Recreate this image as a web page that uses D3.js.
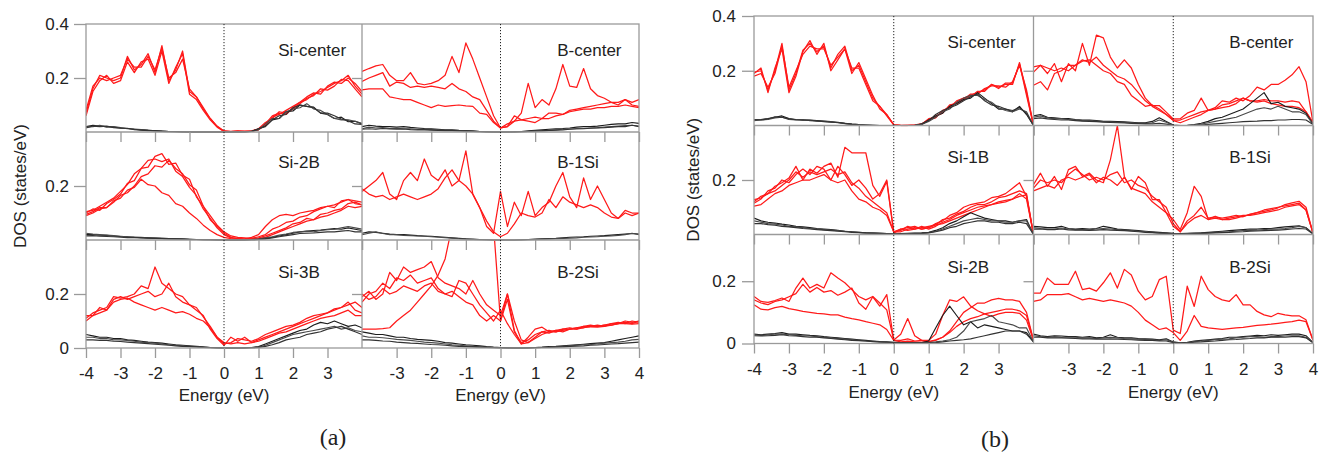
<!DOCTYPE html>
<html>
<head>
<meta charset="utf-8">
<script src="https://cdn.jsdelivr.net/npm/d3@7"></script>
<style>
  body { margin: 0; background: #fff; }
  svg { display: block; }
  text { font-family: "Liberation Sans", Arial, Helvetica, sans-serif; fill: #222; }
</style>
</head>
<body>
<svg id="chart" width="1327" height="453"></svg>
<script>
// Energy grid (eV) shared by every DOS curve
const energies = [-4.0,-3.8,-3.6,-3.4,-3.2,-3.0,-2.8,-2.6,-2.4,-2.2,-2.0,-1.8,-1.6,-1.4,-1.2,-1.0,-0.8,-0.6,-0.4,-0.2,0.0,
  0.2,0.4,0.6,0.8,1.0,1.2,1.4,1.6,1.8,2.0,2.2,2.4,2.6,2.8,3.0,3.2,3.4,3.6,3.8,4.0];

// Tick values and labels
const xTicksLeft = [-4,-3,-2,-1,0,1,2,3];
const xTicksRight = [-3,-2,-1,0,1,2,3,4];
const xTicksInner = [-4,-3,-2,-1,1,2,3,4];
const yTicksByRow = [[0.2,0.4],[0.2],[0,0.2]];
const yMaxA = [0.4,0.4,0.4];
const yMaxB = [0.4,0.4,0.35];
const panelLabelsA = ["Si-center","B-center","Si-2B","B-1Si","Si-3B","B-2Si"];
const panelLabelsB = ["Si-center","B-center","Si-1B","B-1Si","Si-2B","B-2Si"];

// ---------- (a) Si-center ----------
const aSiCenterRed1 = [0.07,0.16,0.21,0.20,0.19,0.20,0.28,0.23,0.25,0.29,0.22,0.32,0.19,0.23,0.30,0.15,0.13,0.085,0.05,0.02,0.003,0.001,0.004,0.001,0.003,0.01,0.03,0.06,0.07,0.065,0.09,0.11,0.12,0.14,0.15,0.165,0.18,0.19,0.21,0.17,0.14];
const aSiCenterRed2 = [0.06,0.15,0.19,0.21,0.18,0.19,0.26,0.22,0.26,0.27,0.21,0.30,0.18,0.24,0.29,0.14,0.12,0.08,0.045,0.018,0.002,0.002,0.003,0.002,0.004,0.012,0.035,0.05,0.075,0.07,0.085,0.105,0.125,0.135,0.16,0.155,0.17,0.195,0.19,0.16,0.13];
const aSiCenterRed3 = [0.08,0.17,0.20,0.19,0.20,0.21,0.27,0.24,0.24,0.28,0.23,0.31,0.20,0.22,0.27,0.16,0.13,0.09,0.05,0.022,0.004,0.001,0.002,0.003,0.002,0.008,0.025,0.055,0.065,0.08,0.095,0.11,0.13,0.145,0.14,0.17,0.185,0.18,0.20,0.18,0.15];
const aSiCenterBlack1 = [0.02,0.025,0.022,0.02,0.018,0.015,0.013,0.01,0.008,0.006,0.005,0.003,0.002,0.001,0.001,0,0,0,0,0,0,0,0,0,0.002,0.012,0.022,0.045,0.05,0.075,0.078,0.1,0.095,0.092,0.07,0.065,0.05,0.055,0.038,0.04,0.03];
const aSiCenterBlack2 = [0.018,0.02,0.025,0.018,0.02,0.016,0.012,0.011,0.009,0.007,0.004,0.004,0.002,0.002,0,0,0,0,0,0,0,0,0,0,0.003,0.008,0.03,0.05,0.05,0.075,0.085,0.09,0.105,0.085,0.08,0.065,0.05,0.045,0.045,0.04,0.032];
const aSiCenterBlack3 = [0.015,0.022,0.02,0.022,0.016,0.014,0.014,0.009,0.007,0.005,0.005,0.002,0.001,0.001,0,0,0,0,0,0,0,0,0,0.001,0.002,0.012,0.02,0.045,0.06,0.065,0.09,0.1,0.095,0.09,0.07,0.07,0.06,0.048,0.042,0.03,0.028];

// ---------- (a) B-center ----------
const aBCenterRed1 = [0.224,0.235,0.245,0.25,0.21,0.19,0.19,0.22,0.18,0.175,0.18,0.19,0.21,0.28,0.22,0.33,0.27,0.2,0.13,0.06,0.015,0.02,0.04,0.07,0.18,0.09,0.12,0.10,0.16,0.25,0.17,0.165,0.235,0.16,0.135,0.125,0.11,0.10,0.12,0.11,0.12];
const aBCenterRed2 = [0.187,0.2,0.21,0.22,0.17,0.185,0.18,0.165,0.17,0.165,0.17,0.165,0.16,0.18,0.16,0.15,0.13,0.12,0.08,0.04,0.015,0.03,0.04,0.045,0.05,0.055,0.05,0.07,0.07,0.065,0.08,0.085,0.09,0.095,0.1,0.105,0.11,0.11,0.12,0.1,0.095];
const aBCenterRed3 = [0.156,0.16,0.16,0.16,0.13,0.125,0.12,0.12,0.11,0.1,0.09,0.1,0.095,0.098,0.1,0.097,0.095,0.07,0.065,0.035,0.015,0.02,0.06,0.045,0.04,0.035,0.05,0.05,0.06,0.065,0.075,0.08,0.085,0.085,0.09,0.09,0.095,0.095,0.1,0.095,0.09];
const aBCenterBlack1 = [0.02,0.025,0.022,0.02,0.02,0.018,0.02,0.017,0.015,0.013,0.012,0.01,0.008,0.008,0.006,0.005,0.004,0.002,0.001,0,0,0,0.001,0.002,0.004,0.006,0.008,0.01,0.012,0.013,0.015,0.018,0.02,0.02,0.022,0.025,0.028,0.03,0.03,0.035,0.032];
const aBCenterBlack2 = [0.012,0.018,0.015,0.016,0.013,0.014,0.012,0.012,0.01,0.01,0.009,0.008,0.007,0.006,0.005,0.004,0.003,0.002,0.001,0,0,0,0,0.001,0.002,0.004,0.005,0.006,0.008,0.01,0.011,0.012,0.013,0.015,0.016,0.018,0.02,0.022,0.024,0.025,0.022];
const aBCenterBlack3 = [0.01,0.012,0.01,0.013,0.011,0.01,0.011,0.009,0.008,0.008,0.007,0.006,0.005,0.005,0.004,0.003,0.002,0.001,0,0,0,0,0,0.001,0.002,0.003,0.004,0.006,0.007,0.008,0.01,0.012,0.012,0.014,0.015,0.016,0.018,0.02,0.02,0.025,0.02];

// ---------- (a) Si-2B ----------
const aSi2BRed1 = [0.1,0.115,0.11,0.135,0.15,0.17,0.21,0.22,0.265,0.27,0.31,0.32,0.28,0.285,0.24,0.225,0.16,0.125,0.075,0.05,0.025,0.01,0.004,0.002,0.003,0.005,0.01,0.02,0.03,0.04,0.05,0.06,0.07,0.075,0.085,0.09,0.1,0.11,0.125,0.12,0.125];
const aSi2BRed2 = [0.095,0.105,0.12,0.12,0.14,0.165,0.175,0.2,0.235,0.245,0.275,0.27,0.295,0.265,0.245,0.205,0.185,0.125,0.09,0.055,0.03,0.015,0.01,0.008,0.005,0.008,0.015,0.025,0.035,0.045,0.06,0.065,0.08,0.075,0.095,0.1,0.11,0.115,0.135,0.14,0.13];
const aSi2BRed3 = [0.105,0.11,0.125,0.14,0.155,0.18,0.205,0.245,0.265,0.295,0.3,0.29,0.3,0.255,0.235,0.195,0.165,0.115,0.08,0.045,0.02,0.008,0.006,0.003,0.006,0.012,0.02,0.04,0.05,0.065,0.07,0.085,0.09,0.105,0.115,0.125,0.12,0.145,0.15,0.135,0.13];
const aSi2BRed4 = [0.09,0.1,0.115,0.12,0.145,0.155,0.185,0.195,0.225,0.205,0.2,0.175,0.165,0.135,0.125,0.1,0.08,0.055,0.035,0.02,0.01,0.005,0.003,0.004,0.01,0.02,0.05,0.075,0.09,0.095,0.09,0.1,0.105,0.11,0.12,0.125,0.13,0.14,0.15,0.145,0.14];
const aSi2BBlack1 = [0.02,0.02,0.018,0.017,0.015,0.013,0.012,0.01,0.009,0.008,0.007,0.006,0.005,0.004,0.003,0.002,0.002,0.001,0.001,0.001,0,0,0,0,0.001,0.002,0.005,0.01,0.015,0.02,0.025,0.03,0.033,0.035,0.037,0.04,0.042,0.04,0.045,0.04,0.035];
const aSi2BBlack2 = [0.025,0.022,0.02,0.018,0.016,0.014,0.012,0.011,0.01,0.008,0.007,0.006,0.005,0.004,0.004,0.003,0.002,0.002,0.001,0,0,0,0,0.001,0.002,0.004,0.008,0.012,0.018,0.022,0.028,0.03,0.032,0.03,0.035,0.038,0.04,0.045,0.05,0.045,0.04];
const aSi2BBlack3 = [0.015,0.016,0.014,0.013,0.012,0.01,0.009,0.009,0.008,0.007,0.006,0.005,0.004,0.004,0.003,0.002,0.002,0.001,0.001,0,0,0,0,0,0.001,0.002,0.004,0.008,0.012,0.016,0.02,0.024,0.025,0.026,0.028,0.03,0.03,0.033,0.035,0.03,0.03];

// ---------- (a) B-1Si ----------
const aB1SiRed1 = [0.18,0.2,0.22,0.25,0.17,0.15,0.22,0.25,0.22,0.3,0.24,0.22,0.26,0.2,0.22,0.33,0.17,0.12,0.05,0.025,0.18,0.05,0.14,0.09,0.18,0.09,0.12,0.14,0.2,0.25,0.16,0.12,0.23,0.15,0.2,0.15,0.1,0.08,0.11,0.1,0.1];
const aB1SiRed2 = [0.19,0.17,0.16,0.165,0.15,0.16,0.17,0.16,0.15,0.16,0.17,0.19,0.23,0.26,0.22,0.2,0.17,0.12,0.07,0.03,0.012,0.025,0.06,0.1,0.09,0.085,0.1,0.15,0.12,0.16,0.14,0.13,0.12,0.13,0.12,0.1,0.085,0.08,0.1,0.09,0.1];
const aB1SiBlack1 = [0.025,0.03,0.028,0.025,0.022,0.02,0.02,0.018,0.016,0.015,0.014,0.012,0.01,0.008,0.006,0.004,0.003,0.002,0.001,0,0,0,0,0.001,0.002,0.003,0.004,0.005,0.006,0.008,0.01,0.011,0.012,0.014,0.015,0.016,0.018,0.02,0.022,0.024,0.022];
const aB1SiBlack2 = [0.02,0.025,0.03,0.024,0.02,0.02,0.017,0.016,0.015,0.014,0.012,0.01,0.009,0.007,0.005,0.004,0.002,0.001,0.001,0,0,0,0,0,0.001,0.002,0.003,0.004,0.005,0.006,0.007,0.008,0.01,0.011,0.012,0.014,0.015,0.017,0.02,0.025,0.02];

// ---------- (a) Si-3B ----------
const aSi3BRed1 = [0.11,0.13,0.14,0.15,0.19,0.185,0.19,0.2,0.23,0.22,0.3,0.24,0.22,0.2,0.19,0.16,0.14,0.12,0.07,0.035,0.01,0.04,0.025,0.04,0.02,0.03,0.04,0.05,0.06,0.07,0.08,0.09,0.1,0.11,0.12,0.13,0.14,0.15,0.16,0.17,0.15];
const aSi3BRed2 = [0.12,0.12,0.15,0.14,0.18,0.19,0.18,0.19,0.2,0.21,0.19,0.2,0.24,0.19,0.17,0.16,0.15,0.115,0.08,0.04,0.015,0.02,0.035,0.03,0.025,0.035,0.05,0.06,0.07,0.08,0.085,0.095,0.11,0.12,0.125,0.13,0.145,0.15,0.17,0.14,0.13];
const aSi3BRed3 = [0.1,0.12,0.13,0.14,0.17,0.18,0.185,0.17,0.16,0.15,0.14,0.15,0.14,0.13,0.135,0.125,0.11,0.1,0.075,0.04,0.02,0.015,0.02,0.015,0.02,0.025,0.035,0.045,0.055,0.06,0.07,0.08,0.09,0.1,0.11,0.115,0.12,0.13,0.14,0.12,0.12];
const aSi3BBlack1 = [0.05,0.045,0.04,0.04,0.035,0.035,0.03,0.028,0.025,0.022,0.02,0.018,0.015,0.012,0.01,0.008,0.006,0.004,0.002,0.001,0,0,0,0.001,0.002,0.005,0.015,0.025,0.035,0.045,0.055,0.065,0.07,0.085,0.095,0.09,0.1,0.09,0.08,0.085,0.075];
const aSi3BBlack2 = [0.04,0.04,0.035,0.035,0.03,0.03,0.028,0.025,0.022,0.02,0.018,0.015,0.012,0.01,0.008,0.006,0.005,0.003,0.002,0.001,0,0,0,0,0.001,0.003,0.01,0.02,0.03,0.04,0.05,0.055,0.06,0.065,0.07,0.075,0.08,0.07,0.075,0.065,0.06];
const aSi3BBlack3 = [0.03,0.03,0.028,0.028,0.025,0.024,0.022,0.02,0.018,0.016,0.014,0.012,0.01,0.008,0.006,0.005,0.004,0.002,0.001,0,0,0,0,0,0.001,0.002,0.006,0.012,0.02,0.03,0.035,0.04,0.05,0.055,0.06,0.07,0.075,0.08,0.07,0.06,0.05];

// ---------- (a) B-2Si ----------
const aB2SiRed1 = [0.07,0.07,0.07,0.072,0.075,0.1,0.12,0.14,0.17,0.2,0.23,0.27,0.33,0.45,0.6,0.7,0.75,0.7,0.6,0.45,0.1,0.2,0.065,0.015,0.04,0.07,0.077,0.06,0.065,0.06,0.07,0.075,0.08,0.078,0.077,0.08,0.085,0.09,0.09,0.088,0.09];
const aB2SiRed2 = [0.19,0.21,0.18,0.2,0.28,0.25,0.3,0.28,0.29,0.3,0.32,0.26,0.24,0.23,0.22,0.2,0.25,0.2,0.16,0.14,0.12,0.2,0.1,0.03,0.02,0.04,0.06,0.065,0.06,0.065,0.07,0.07,0.075,0.08,0.085,0.08,0.09,0.09,0.1,0.095,0.1];
const aB2SiRed3 = [0.17,0.2,0.21,0.24,0.22,0.26,0.25,0.27,0.24,0.25,0.26,0.22,0.2,0.21,0.19,0.17,0.16,0.12,0.1,0.12,0.1,0.18,0.06,0.02,0.03,0.05,0.06,0.055,0.065,0.07,0.075,0.07,0.08,0.085,0.08,0.085,0.09,0.095,0.09,0.1,0.095];
const aB2SiRed4 = [0.2,0.18,0.19,0.22,0.2,0.21,0.23,0.22,0.21,0.23,0.24,0.21,0.2,0.19,0.25,0.24,0.2,0.16,0.13,0.1,0.14,0.09,0.05,0.015,0.02,0.035,0.05,0.06,0.06,0.07,0.07,0.075,0.075,0.08,0.08,0.085,0.085,0.09,0.095,0.09,0.1];
const aB2SiBlack1 = [0.06,0.055,0.05,0.05,0.045,0.04,0.04,0.035,0.032,0.03,0.028,0.025,0.02,0.018,0.015,0.012,0.01,0.008,0.005,0.003,0.002,0.001,0,0,0.001,0.002,0.003,0.005,0.006,0.008,0.01,0.012,0.014,0.016,0.018,0.02,0.025,0.03,0.035,0.04,0.045];
const aB2SiBlack2 = [0.045,0.04,0.04,0.038,0.035,0.032,0.03,0.028,0.025,0.022,0.02,0.018,0.015,0.012,0.01,0.008,0.006,0.004,0.003,0.002,0.001,0,0,0,0,0.001,0.002,0.003,0.005,0.006,0.008,0.01,0.012,0.013,0.015,0.018,0.02,0.022,0.025,0.03,0.032];
const aB2SiBlack3 = [0.03,0.03,0.028,0.026,0.025,0.022,0.02,0.018,0.017,0.015,0.013,0.012,0.01,0.008,0.006,0.005,0.004,0.003,0.002,0.001,0,0,0,0,0,0.001,0.002,0.002,0.003,0.004,0.006,0.007,0.008,0.01,0.011,0.013,0.015,0.016,0.018,0.02,0.022];

// ---------- (b) Si-center ----------
const bSiCenterRed1 = [0.195,0.2,0.13,0.2,0.3,0.13,0.19,0.275,0.3,0.27,0.29,0.21,0.26,0.29,0.2,0.22,0.16,0.1,0.07,0.04,0.002,0,0,0.001,0.005,0.025,0.03,0.05,0.07,0.085,0.1,0.11,0.12,0.13,0.15,0.14,0.15,0.15,0.23,0.12,0.0];
const bSiCenterRed2 = [0.18,0.19,0.14,0.19,0.29,0.14,0.2,0.26,0.29,0.28,0.28,0.22,0.25,0.28,0.21,0.21,0.15,0.09,0.07,0.035,0.002,0,0.001,0.002,0.006,0.02,0.035,0.045,0.075,0.08,0.095,0.115,0.115,0.135,0.145,0.145,0.14,0.16,0.22,0.13,0.0];
const bSiCenterRed3 = [0.19,0.21,0.12,0.21,0.28,0.12,0.18,0.27,0.31,0.26,0.3,0.2,0.24,0.28,0.19,0.23,0.17,0.11,0.06,0.04,0.003,0.001,0,0.001,0.004,0.022,0.028,0.055,0.065,0.09,0.1,0.105,0.125,0.125,0.15,0.135,0.155,0.155,0.225,0.11,0.0];
const bSiCenterBlack1 = [0.02,0.022,0.025,0.03,0.035,0.025,0.022,0.02,0.02,0.018,0.016,0.014,0.012,0.008,0.005,0.003,0.002,0.001,0,0,0,0,0,0,0.005,0.02,0.035,0.045,0.07,0.08,0.095,0.1,0.12,0.1,0.08,0.06,0.06,0.05,0.07,0.04,0];
const bSiCenterBlack2 = [0.018,0.02,0.022,0.028,0.03,0.022,0.02,0.022,0.018,0.016,0.015,0.013,0.01,0.007,0.004,0.002,0.001,0,0,0,0,0,0,0,0.004,0.015,0.03,0.05,0.06,0.085,0.1,0.11,0.11,0.095,0.085,0.065,0.055,0.05,0.06,0.05,0];
const bSiCenterBlack3 = [0.022,0.02,0.024,0.032,0.03,0.024,0.021,0.019,0.019,0.017,0.014,0.012,0.011,0.008,0.005,0.003,0.002,0.001,0,0,0,0,0,0.001,0.006,0.018,0.04,0.055,0.065,0.075,0.09,0.105,0.115,0.09,0.075,0.07,0.06,0.055,0.065,0.045,0];

// ---------- (b) B-center ----------
const bBCenterRed1 = [0.214,0.22,0.19,0.226,0.16,0.226,0.2,0.3,0.22,0.33,0.32,0.25,0.21,0.24,0.21,0.15,0.1,0.073,0.073,0.049,0.024,0.025,0.045,0.055,0.1,0.055,0.065,0.09,0.085,0.1,0.09,0.11,0.14,0.13,0.15,0.15,0.165,0.185,0.215,0.16,0.01];
const bBCenterRed2 = [0.195,0.22,0.21,0.2,0.21,0.2,0.22,0.24,0.23,0.25,0.22,0.2,0.18,0.17,0.15,0.12,0.09,0.07,0.055,0.04,0.02,0.02,0.03,0.04,0.05,0.055,0.06,0.075,0.08,0.09,0.1,0.09,0.09,0.095,0.09,0.09,0.085,0.09,0.085,0.05,0.01];
const bBCenterRed3 = [0.147,0.16,0.13,0.19,0.2,0.22,0.22,0.235,0.24,0.22,0.2,0.19,0.16,0.15,0.11,0.09,0.07,0.075,0.06,0.04,0.018,0.01,0.02,0.03,0.04,0.055,0.06,0.065,0.07,0.08,0.1,0.09,0.085,0.09,0.08,0.075,0.07,0.07,0.065,0.05,0.01];
const bBCenterBlack1 = [0.035,0.04,0.03,0.028,0.025,0.025,0.022,0.02,0.02,0.018,0.015,0.015,0.014,0.013,0.012,0.01,0.01,0.015,0.028,0.015,0.002,0,0.001,0.003,0.008,0.015,0.025,0.03,0.04,0.05,0.06,0.08,0.1,0.12,0.08,0.085,0.07,0.065,0.06,0.045,0.005];
const bBCenterBlack2 = [0.03,0.035,0.028,0.025,0.025,0.022,0.02,0.018,0.018,0.016,0.014,0.013,0.012,0.011,0.01,0.009,0.008,0.01,0.02,0.012,0.001,0,0,0.002,0.005,0.01,0.015,0.02,0.025,0.03,0.04,0.05,0.06,0.065,0.06,0.07,0.06,0.05,0.05,0.04,0.005];
const bBCenterBlack3 = [0.025,0.028,0.024,0.022,0.02,0.02,0.018,0.016,0.015,0.014,0.012,0.011,0.01,0.009,0.008,0.007,0.006,0.006,0.008,0.005,0.001,0,0,0.001,0.002,0.004,0.006,0.008,0.01,0.012,0.014,0.015,0.016,0.018,0.018,0.02,0.02,0.022,0.022,0.02,0.004];

// ---------- (b) Si-1B ----------
const bSi1BRed1 = [0.128,0.134,0.15,0.177,0.19,0.207,0.25,0.2,0.24,0.225,0.25,0.262,0.21,0.32,0.3,0.3,0.3,0.18,0.14,0.195,0.005,0.02,0.025,0.03,0.02,0.025,0.04,0.05,0.07,0.08,0.1,0.11,0.115,0.12,0.135,0.14,0.15,0.17,0.19,0.14,0.0];
const bSi1BRed2 = [0.115,0.13,0.16,0.17,0.2,0.19,0.22,0.24,0.22,0.25,0.24,0.2,0.25,0.22,0.18,0.2,0.17,0.13,0.15,0.2,0.01,0.015,0.03,0.02,0.025,0.03,0.035,0.055,0.06,0.075,0.085,0.1,0.11,0.11,0.12,0.135,0.14,0.15,0.16,0.15,0.0];
const bSi1BRed3 = [0.104,0.11,0.13,0.15,0.16,0.18,0.19,0.2,0.2,0.21,0.22,0.2,0.19,0.2,0.16,0.13,0.12,0.1,0.09,0.07,0.01,0.01,0.02,0.025,0.02,0.025,0.035,0.04,0.05,0.06,0.07,0.08,0.09,0.1,0.11,0.115,0.12,0.13,0.14,0.145,0.0];
const bSi1BRed4 = [0.12,0.14,0.15,0.16,0.18,0.2,0.23,0.21,0.23,0.22,0.23,0.24,0.22,0.23,0.19,0.17,0.14,0.12,0.1,0.08,0.01,0.02,0.015,0.02,0.03,0.02,0.03,0.045,0.055,0.07,0.08,0.09,0.1,0.105,0.11,0.12,0.125,0.13,0.15,0.13,0.0];
const bSi1BBlack1 = [0.06,0.05,0.045,0.042,0.038,0.035,0.03,0.028,0.025,0.022,0.02,0.018,0.015,0.012,0.01,0.008,0.006,0.005,0.004,0.003,0.002,0.003,0.004,0.005,0.006,0.008,0.015,0.025,0.04,0.05,0.065,0.08,0.07,0.06,0.055,0.05,0.05,0.045,0.05,0.055,0];
const bSi1BBlack2 = [0.05,0.045,0.04,0.038,0.035,0.03,0.028,0.025,0.022,0.02,0.018,0.016,0.014,0.012,0.01,0.008,0.006,0.005,0.004,0.003,0.002,0.002,0.003,0.004,0.005,0.007,0.012,0.02,0.03,0.04,0.05,0.055,0.06,0.055,0.05,0.05,0.045,0.045,0.05,0.05,0];
const bSi1BBlack3 = [0.04,0.04,0.036,0.034,0.03,0.028,0.025,0.022,0.02,0.018,0.016,0.014,0.012,0.01,0.008,0.007,0.006,0.005,0.004,0.003,0.002,0.002,0.002,0.003,0.004,0.006,0.01,0.016,0.025,0.03,0.04,0.045,0.05,0.05,0.045,0.045,0.04,0.04,0.045,0.04,0];

// ---------- (b) B-1Si ----------
const bB1SiRed1 = [0.183,0.225,0.177,0.213,0.165,0.238,0.25,0.213,0.225,0.2,0.19,0.274,0.4,0.213,0.165,0.213,0.19,0.128,0.128,0.08,0.055,0.018,0.08,0.177,0.14,0.055,0.067,0.055,0.055,0.06,0.067,0.073,0.08,0.085,0.09,0.098,0.11,0.116,0.122,0.1,0.005];
const bB1SiRed2 = [0.17,0.2,0.19,0.2,0.19,0.22,0.24,0.22,0.2,0.21,0.2,0.22,0.23,0.19,0.2,0.18,0.17,0.14,0.12,0.1,0.04,0.01,0.05,0.07,0.1,0.06,0.065,0.06,0.065,0.07,0.065,0.075,0.08,0.09,0.095,0.1,0.105,0.11,0.115,0.09,0.005];
const bB1SiRed3 = [0.16,0.17,0.18,0.17,0.2,0.21,0.2,0.21,0.22,0.19,0.21,0.2,0.18,0.21,0.17,0.16,0.15,0.12,0.1,0.08,0.03,0.01,0.04,0.06,0.07,0.055,0.06,0.055,0.06,0.065,0.07,0.07,0.075,0.08,0.085,0.09,0.1,0.105,0.11,0.09,0.005];
const bB1SiBlack1 = [0.03,0.028,0.025,0.025,0.03,0.022,0.02,0.022,0.02,0.022,0.03,0.025,0.02,0.018,0.016,0.014,0.012,0.01,0.008,0.006,0.004,0.003,0.004,0.005,0.006,0.008,0.01,0.012,0.014,0.016,0.018,0.02,0.02,0.022,0.022,0.025,0.028,0.03,0.032,0.025,0.003];
const bB1SiBlack2 = [0.025,0.022,0.02,0.02,0.024,0.02,0.018,0.018,0.017,0.02,0.022,0.02,0.018,0.016,0.014,0.012,0.01,0.008,0.006,0.005,0.003,0.002,0.003,0.004,0.005,0.006,0.008,0.009,0.01,0.012,0.014,0.015,0.016,0.018,0.02,0.02,0.022,0.025,0.03,0.025,0.003];
const bB1SiBlack3 = [0.02,0.02,0.018,0.018,0.02,0.017,0.016,0.016,0.015,0.016,0.018,0.016,0.015,0.014,0.012,0.01,0.008,0.007,0.005,0.004,0.002,0.002,0.002,0.003,0.004,0.005,0.006,0.007,0.008,0.009,0.01,0.012,0.013,0.014,0.015,0.016,0.018,0.02,0.022,0.02,0.002];

// ---------- (b) Si-2B ----------
const bSi2BRed1 = [0.151,0.135,0.132,0.138,0.146,0.135,0.178,0.21,0.178,0.19,0.178,0.227,0.21,0.195,0.173,0.151,0.14,0.151,0.13,0.108,0.011,0.03,0.08,0.025,0.01,0.01,0.03,0.09,0.14,0.135,0.15,0.12,0.105,0.095,0.087,0.095,0.1,0.1,0.097,0.075,0.01];
const bSi2BRed2 = [0.14,0.13,0.125,0.135,0.14,0.15,0.16,0.19,0.165,0.18,0.165,0.17,0.155,0.165,0.178,0.13,0.11,0.15,0.12,0.157,0.011,0.01,0.015,0.008,0.01,0.005,0.012,0.02,0.04,0.07,0.1,0.115,0.13,0.13,0.14,0.145,0.14,0.14,0.135,0.1,0.01];
const bSi2BRed3 = [0.124,0.11,0.108,0.115,0.119,0.112,0.108,0.103,0.1,0.097,0.095,0.092,0.092,0.085,0.08,0.076,0.07,0.065,0.06,0.045,0.01,0.005,0.008,0.005,0.004,0.006,0.01,0.02,0.035,0.055,0.07,0.08,0.086,0.095,0.1,0.105,0.11,0.11,0.105,0.09,0.01];
const bSi2BBlack1 = [0.03,0.028,0.03,0.032,0.035,0.03,0.03,0.028,0.026,0.025,0.022,0.02,0.018,0.016,0.014,0.012,0.01,0.008,0.006,0.005,0.004,0.003,0.002,0.002,0.003,0.008,0.05,0.09,0.12,0.09,0.06,0.07,0.05,0.06,0.055,0.05,0.045,0.04,0.04,0.035,0.005];
const bSi2BBlack2 = [0.028,0.026,0.028,0.03,0.03,0.028,0.026,0.025,0.024,0.022,0.02,0.018,0.016,0.014,0.012,0.01,0.008,0.007,0.005,0.004,0.003,0.002,0.002,0.002,0.002,0.003,0.005,0.008,0.012,0.02,0.04,0.07,0.075,0.08,0.09,0.07,0.065,0.06,0.05,0.05,0.005];
const bSi2BBlack3 = [0.025,0.024,0.025,0.026,0.028,0.025,0.024,0.022,0.02,0.02,0.018,0.016,0.014,0.012,0.01,0.009,0.008,0.006,0.005,0.004,0.003,0.002,0.002,0.002,0.002,0.002,0.003,0.005,0.008,0.01,0.012,0.015,0.02,0.025,0.03,0.035,0.04,0.04,0.04,0.03,0.005];

// ---------- (b) B-2Si ----------
const bB2SiRed1 = [0.162,0.162,0.21,0.19,0.19,0.19,0.232,0.173,0.178,0.168,0.195,0.227,0.178,0.238,0.22,0.168,0.14,0.151,0.205,0.216,0.043,0.032,0.184,0.119,0.216,0.173,0.151,0.14,0.135,0.157,0.124,0.124,0.103,0.092,0.086,0.097,0.092,0.089,0.089,0.076,0.011];
const bB2SiRed2 = [0.135,0.14,0.157,0.157,0.157,0.16,0.15,0.14,0.145,0.14,0.135,0.14,0.135,0.13,0.12,0.1,0.075,0.06,0.045,0.05,0.035,0.01,0.04,0.09,0.055,0.05,0.048,0.045,0.048,0.05,0.052,0.055,0.058,0.06,0.062,0.065,0.068,0.07,0.075,0.07,0.01];
const bB2SiBlack1 = [0.03,0.025,0.022,0.025,0.024,0.022,0.022,0.02,0.022,0.018,0.02,0.028,0.02,0.018,0.018,0.016,0.015,0.014,0.012,0.015,0.005,0.002,0.004,0.008,0.01,0.012,0.014,0.016,0.02,0.02,0.022,0.024,0.026,0.025,0.028,0.026,0.028,0.03,0.03,0.025,0.003];
const bB2SiBlack2 = [0.025,0.022,0.02,0.022,0.02,0.02,0.02,0.018,0.018,0.016,0.018,0.02,0.018,0.016,0.015,0.014,0.013,0.012,0.01,0.012,0.004,0.001,0.002,0.006,0.008,0.01,0.012,0.014,0.015,0.018,0.02,0.022,0.022,0.02,0.022,0.022,0.024,0.025,0.025,0.02,0.003];
const bB2SiBlack3 = [0.02,0.02,0.018,0.018,0.018,0.017,0.016,0.015,0.015,0.014,0.014,0.015,0.014,0.013,0.012,0.011,0.01,0.01,0.008,0.008,0.003,0.001,0.002,0.004,0.005,0.007,0.008,0.01,0.012,0.013,0.015,0.016,0.018,0.018,0.02,0.02,0.02,0.022,0.022,0.018,0.002];

// Panel contents, row by row, left panel then right panel
const panelsA = [
  [{ red: [aSiCenterRed1, aSiCenterRed2, aSiCenterRed3], black: [aSiCenterBlack1, aSiCenterBlack2, aSiCenterBlack3] },
   { red: [aBCenterRed1, aBCenterRed2, aBCenterRed3], black: [aBCenterBlack1, aBCenterBlack2, aBCenterBlack3] }],
  [{ red: [aSi2BRed1, aSi2BRed2, aSi2BRed3, aSi2BRed4], black: [aSi2BBlack1, aSi2BBlack2, aSi2BBlack3] },
   { red: [aB1SiRed1, aB1SiRed2], black: [aB1SiBlack1, aB1SiBlack2] }],
  [{ red: [aSi3BRed1, aSi3BRed2, aSi3BRed3], black: [aSi3BBlack1, aSi3BBlack2, aSi3BBlack3] },
   { red: [aB2SiRed1, aB2SiRed2, aB2SiRed3, aB2SiRed4], black: [aB2SiBlack1, aB2SiBlack2, aB2SiBlack3] }]
];
const panelsB = [
  [{ red: [bSiCenterRed1, bSiCenterRed2, bSiCenterRed3], black: [bSiCenterBlack1, bSiCenterBlack2, bSiCenterBlack3] },
   { red: [bBCenterRed1, bBCenterRed2, bBCenterRed3], black: [bBCenterBlack1, bBCenterBlack2, bBCenterBlack3] }],
  [{ red: [bSi1BRed1, bSi1BRed2, bSi1BRed3, bSi1BRed4], black: [bSi1BBlack1, bSi1BBlack2, bSi1BBlack3] },
   { red: [bB1SiRed1, bB1SiRed2, bB1SiRed3], black: [bB1SiBlack1, bB1SiBlack2, bB1SiBlack3] }],
  [{ red: [bSi2BRed1, bSi2BRed2, bSi2BRed3], black: [bSi2BBlack1, bSi2BBlack2, bSi2BBlack3] },
   { red: [bB2SiRed1, bB2SiRed2], black: [bB2SiBlack1, bB2SiBlack2, bB2SiBlack3] }]
];

// ---------------- drawing ----------------
const svg = d3.select("#chart");
const defs = svg.append("defs");
const FRAME = "#9a9a9a";
const RED = "#ff1a1a";
const BLACKS = ["#1c1c1c", "#4a4a4a", "#333333", "#666666"];
const FONT = 17;

function drawFigure(fig) {
  const g = svg.append("g");
  const xL = d3.scaleLinear().domain([-4, 4]).range([fig.x0, fig.xm]);
  const xR = d3.scaleLinear().domain([-4, 4]).range([fig.xm, fig.x1]);
  const xs = [xL, xR];
  const top = fig.rows[0], bottom = fig.rows[3];

  fig.panels.forEach((rowPanels, r) => {
    const y = d3.scaleLinear().domain([0, fig.yMax[r]]).range([fig.rows[r + 1], fig.rows[r]]);
    xs.forEach((x, c) => {
      const p = rowPanels[c];
      const clipId = `clip-${fig.id}-${r}-${c}`;
      defs.append("clipPath").attr("id", clipId).append("rect")
        .attr("x", x(-4)).attr("y", fig.rows[r] - 0.5)
        .attr("width", x(4) - x(-4)).attr("height", fig.rows[r + 1] - fig.rows[r] + 1.5);
      const line = d3.line().x((d, i) => x(energies[i])).y(d => y(d));
      const pg = g.append("g").attr("clip-path", `url(#${clipId})`);
      p.red.forEach(vals => {
        pg.append("path").attr("d", line(vals)).attr("fill", "none")
          .attr("stroke", RED).attr("stroke-width", 1.25).attr("stroke-linejoin", "round");
      });
      p.black.forEach((vals, k) => {
        pg.append("path").attr("d", line(vals)).attr("fill", "none")
          .attr("stroke", BLACKS[k % BLACKS.length]).attr("stroke-width", 1.15).attr("stroke-linejoin", "round");
      });
      // panel name
      g.append("text").attr("x", x(fig.labelE[c])).attr("y", fig.rows[r] + fig.labelDy[r])
        .attr("font-size", FONT).text(fig.labels[r * 2 + c]);
    });

    // left y axis with labels
    const yAxis = d3.axisLeft(y).tickValues(yTicksByRow[r]).tickSize(12).tickPadding(fig.yPad)
      .tickFormat(d => d === 0 ? "0" : d.toFixed(1));
    const ya = g.append("g").attr("transform", `translate(${fig.x0},0)`).call(yAxis);
    ya.select(".domain").remove();
    ya.selectAll("line").attr("stroke", FRAME).attr("stroke-width", 1.3);
    ya.selectAll("text").attr("font-size", FONT).attr("font-family", null).attr("fill", "#222");

    // inner y axis ticks on the split line
    const yIn = d3.axisLeft(y).tickValues([0.2]).tickSize(10).tickFormat("");
    const yi = g.append("g").attr("transform", `translate(${fig.xm},0)`).call(yIn);
    yi.select(".domain").remove();
    yi.selectAll("line").attr("stroke", FRAME).attr("stroke-width", 1.3);

    // x axis under this row
    const isBottom = r === fig.panels.length - 1;
    xs.forEach((x, c) => {
      const ticks = isBottom ? (c === 0 ? xTicksLeft : xTicksRight) : xTicksInner;
      const ax = d3.axisBottom(x).tickValues(ticks).tickSize(10).tickPadding(fig.xPad)
        .tickFormat(isBottom ? (d => String(d)) : "");
      const xa = g.append("g").attr("transform", `translate(0,${fig.rows[r + 1]})`).call(ax);
      xa.select(".domain").remove();
      xa.selectAll("line").attr("stroke", FRAME).attr("stroke-width", 1.3);
      xa.selectAll("text").attr("font-size", FONT).attr("font-family", null).attr("fill", "#222");
    });
  });

  // frame and separators
  const fr = g.append("g").attr("stroke", FRAME).attr("stroke-width", 1.3).attr("fill", "none");
  fr.append("rect").attr("x", fig.x0).attr("y", top).attr("width", fig.x1 - fig.x0).attr("height", bottom - top);
  fr.append("line").attr("x1", fig.xm).attr("x2", fig.xm).attr("y1", top).attr("y2", bottom);
  [1, 2].forEach(k => fr.append("line").attr("x1", fig.x0).attr("x2", fig.x1)
    .attr("y1", fig.rows[k]).attr("y2", fig.rows[k]));

  // Fermi level markers
  xs.forEach(x => {
    g.append("line").attr("x1", x(0)).attr("x2", x(0)).attr("y1", top).attr("y2", bottom)
      .attr("stroke", "#222").attr("stroke-width", 1).attr("stroke-dasharray", "1.2,1.8");
  });

  // axis titles
  xs.forEach(x => {
    g.append("text").attr("x", x(0)).attr("y", fig.xTitleY).attr("text-anchor", "middle")
      .attr("font-size", FONT).text("Energy (eV)");
  });
  g.append("text").attr("transform", `translate(${fig.yTitleX},${(top + bottom) / 2}) rotate(-90)`)
    .attr("text-anchor", "middle").attr("font-size", FONT).text("DOS (states/eV)");

  // sub-figure tag
  g.append("text").attr("x", fig.tagX).attr("y", fig.tagY).attr("text-anchor", "middle")
    .attr("font-size", 24).style("font-family", "'Liberation Serif', 'DejaVu Serif', serif")
    .text(fig.tag);
}

drawFigure({
  id: "a", x0: 86, xm: 362, x1: 639, rows: [24, 132, 240, 348], yMax: yMaxA,
  panels: panelsA, labels: panelLabelsA, labelE: [1.57, 1.64], labelDy: [32, 36, 38],
  yPad: 5, xPad: 9, xTitleY: 401, yTitleX: 26, tag: "(a)", tagX: 333, tagY: 445
});
drawFigure({
  id: "b", x0: 754, xm: 1033.5, x1: 1313, rows: [16, 125.5, 234.5, 343.5], yMax: yMaxB,
  panels: panelsB, labels: panelLabelsB, labelE: [1.54, 1.6], labelDy: [32, 37, 38],
  yPad: 6, xPad: 9.5, xTitleY: 398, yTitleX: 699, tag: "(b)", tagX: 995, tagY: 447
});
</script>
</body>
</html>
